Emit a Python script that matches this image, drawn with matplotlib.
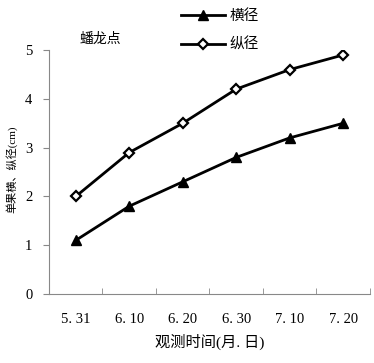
import numpy as np
import matplotlib.pyplot as plt

plt.rcParams['font.family'] = ['Liberation Serif', 'Noto Sans CJK SC']

dates = ['5.31', '6.10', '6.20', '6.30', '7.10', '7.20']
heng = [1.1, 1.8, 2.3, 2.8, 3.2, 3.5]
zong = [2.0, 2.9, 3.5, 4.2, 4.6, 4.9]

fig = plt.figure(figsize=(3.74, 3.63), dpi=100)
ax = fig.add_axes([0.131, 0.19, 0.858, 0.672])
x = np.arange(len(dates))
l1, = ax.plot(x, heng, color='black', lw=2, marker='^', ms=7.5, mfc='black', label='横径')
l2, = ax.plot(x, zong, color='black', lw=2, marker='D', ms=5.5, mfc='white', mew=1.6, label='纵径')

ax.set_xlim(-0.5, len(dates) - 0.5)
ax.set_ylim(0, 5)
ax.set_yticks(range(6))
ax.set_xticks(x)
ax.set_xticklabels([d.replace('.', '. ') for d in dates], fontsize=10.5)
ax.set_xticks(np.arange(-0.5, len(dates)), minor=True)
ax.tick_params(axis='x', which='major', length=0, pad=14)
ax.tick_params(axis='x', which='minor', direction='in', length=4, color='#888888')
ax.tick_params(axis='y', direction='out', length=4, color='#888888', labelsize=10.5, pad=8)
for s in ['top', 'right']:
    ax.spines[s].set_visible(False)
for s in ['left', 'bottom']:
    ax.spines[s].set_color('#888888')

ax.set_xlabel('观测时间(月. 日)', fontsize=11, labelpad=5)
ax.set_ylabel('单果横、纵径(cm)', fontsize=8)
ax.yaxis.set_label_coords(-0.1, 0.51)
fig.text(0.213, 0.883, '蟠龙点', fontsize=10)
fig.legend(handles=[l1, l2], loc='upper left', bbox_to_anchor=(0.45, 1.01), frameon=False,
           fontsize=10.5, handlelength=3, labelspacing=1.0, handletextpad=0.3)

fig.savefig('out.png', dpi=100)
